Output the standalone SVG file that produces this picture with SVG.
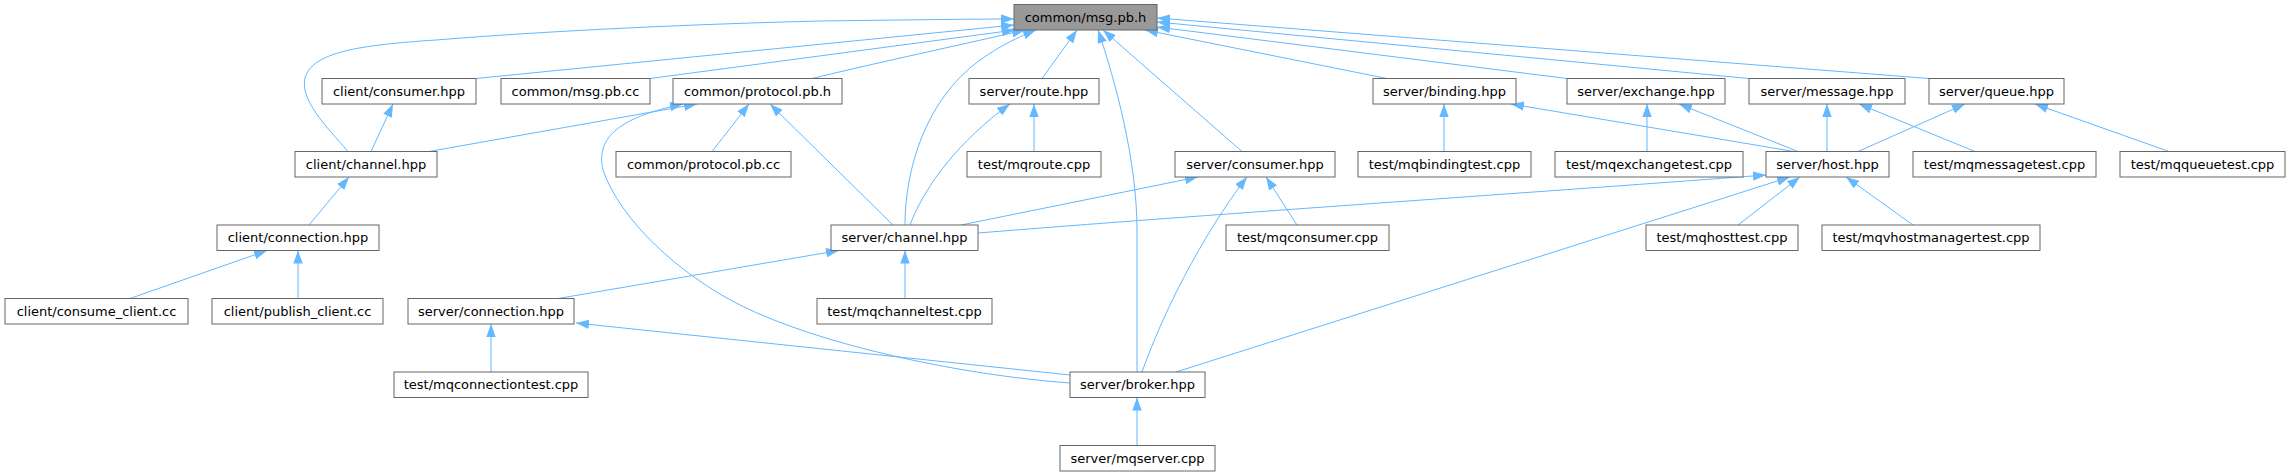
<svg xmlns="http://www.w3.org/2000/svg" width="2289" height="476" viewBox="0 0 2289 476">
<defs>
<style>
.node rect{fill:#ffffff;stroke:#666666;stroke-width:1}
.root rect{fill:#999999}
.node text{font-family:"DejaVu Sans","Liberation Sans",sans-serif;font-size:13px;fill:#000000;text-anchor:middle}
.edge{fill:none;stroke:#63B8FF;stroke-width:1;marker-end:url(#arr)}
</style>
<marker id="arr" markerUnits="userSpaceOnUse" markerWidth="14" markerHeight="10" refX="13" refY="5" orient="auto" viewBox="0 0 14 10">
<path d="M0,0.3 L13,5 L0,9.7 z" fill="#63B8FF"/>
</marker>
</defs>
<rect width="2289" height="476" fill="#ffffff"/>
<g id="connectors">
<path class="edge" d="M348,151.5 C325,125 300,100 305,78 C312,52 360,45 436,40 C560,30 700,24 820,21 C900,20 970,19 1014,19"/>
<path class="edge" d="M476,78.5 L1014,25"/>
<path class="edge" d="M650,78.5 L1015,30"/>
<path class="edge" d="M812,78.5 C880,62 960,45 1025,30"/>
<path class="edge" d="M905,225 C905,170 925,100 980,60 C1000,46 1018,37 1036,30"/>
<path class="edge" d="M1042,78.5 L1077,30"/>
<path class="edge" d="M1137,372 L1137,230 C1137,160 1115,80 1098,30"/>
<path class="edge" d="M1242,151.5 L1103,30"/>
<path class="edge" d="M1387,78.5 L1145,30"/>
<path class="edge" d="M1567,78.5 L1157,27"/>
<path class="edge" d="M1749,78.5 L1157,22"/>
<path class="edge" d="M1929,78.5 L1157,18"/>
<path class="edge" d="M371,151.5 L393,104"/>
<path class="edge" d="M429,151.5 L697,104"/>
<path class="edge" d="M712,151.5 L749,104"/>
<path class="edge" d="M893,225 L770,104"/>
<path class="edge" d="M1070,383 C960,375 820,345 740,305 C680,275 620,220 603,170 C596,140 615,118 683,104"/>
<path class="edge" d="M910,225 C925,185 960,140 1010,104"/>
<path class="edge" d="M1034,151.5 L1034,104"/>
<path class="edge" d="M309,225 L349,177"/>
<path class="edge" d="M130,298.5 L267,250.5"/>
<path class="edge" d="M298,298.5 L298,250.5"/>
<path class="edge" d="M961,225 L1198,177"/>
<path class="edge" d="M1142,372 C1175,280 1225,205 1247,177"/>
<path class="edge" d="M1297,225 L1266,177"/>
<path class="edge" d="M1444,151.5 L1444,104"/>
<path class="edge" d="M1794,151.5 L1511,104"/>
<path class="edge" d="M1647,151.5 L1647,104"/>
<path class="edge" d="M1798,151.5 L1679,104"/>
<path class="edge" d="M1827,151.5 L1827,104"/>
<path class="edge" d="M1975,151.5 L1859,104"/>
<path class="edge" d="M1858,151.5 L1965,104"/>
<path class="edge" d="M2169,151.5 L2035,104"/>
<path class="edge" d="M978,233 C1200,215 1500,195 1766,175"/>
<path class="edge" d="M1176,372 L1790,177"/>
<path class="edge" d="M1738,225 L1800,177"/>
<path class="edge" d="M1913,225 L1846,177"/>
<path class="edge" d="M558,298.5 L839,250.5"/>
<path class="edge" d="M905,298.5 L905,250.5"/>
<path class="edge" d="M491,372 L491,324"/>
<path class="edge" d="M1070,375 L576,323"/>
<path class="edge" d="M1137,445.5 L1137,397.5"/>
</g>
<g id="n1" class="node root"><rect x="1014" y="4.5" width="143" height="25.5"/><text x="1085.5" y="21.5">common/msg.pb.h</text></g>
<g id="n2" class="node"><rect x="322" y="78.5" width="154" height="25.5"/><text x="399" y="95.5">client/consumer.hpp</text></g>
<g id="n3" class="node"><rect x="501" y="78.5" width="149" height="25.5"/><text x="575.5" y="95.5">common/msg.pb.cc</text></g>
<g id="n4" class="node"><rect x="673" y="78.5" width="169" height="25.5"/><text x="757.5" y="95.5">common/protocol.pb.h</text></g>
<g id="n5" class="node"><rect x="969" y="78.5" width="130" height="25.5"/><text x="1034" y="95.5">server/route.hpp</text></g>
<g id="n6" class="node"><rect x="1373" y="78.5" width="143" height="25.5"/><text x="1444.5" y="95.5">server/binding.hpp</text></g>
<g id="n7" class="node"><rect x="1567" y="78.5" width="158" height="25.5"/><text x="1646" y="95.5">server/exchange.hpp</text></g>
<g id="n8" class="node"><rect x="1749" y="78.5" width="156" height="25.5"/><text x="1827" y="95.5">server/message.hpp</text></g>
<g id="n9" class="node"><rect x="1929" y="78.5" width="135" height="25.5"/><text x="1996.5" y="95.5">server/queue.hpp</text></g>
<g id="n10" class="node"><rect x="295" y="151.5" width="142" height="25.5"/><text x="366" y="168.5">client/channel.hpp</text></g>
<g id="n11" class="node"><rect x="616" y="151.5" width="175" height="25.5"/><text x="703.5" y="168.5">common/protocol.pb.cc</text></g>
<g id="n12" class="node"><rect x="967" y="151.5" width="134" height="25.5"/><text x="1034" y="168.5">test/mqroute.cpp</text></g>
<g id="n13" class="node"><rect x="1175" y="151.5" width="160" height="25.5"/><text x="1255" y="168.5">server/consumer.hpp</text></g>
<g id="n14" class="node"><rect x="1358" y="151.5" width="173" height="25.5"/><text x="1444.5" y="168.5">test/mqbindingtest.cpp</text></g>
<g id="n15" class="node"><rect x="1555" y="151.5" width="188" height="25.5"/><text x="1649" y="168.5">test/mqexchangetest.cpp</text></g>
<g id="n16" class="node"><rect x="1766" y="151.5" width="123" height="25.5"/><text x="1827.5" y="168.5">server/host.hpp</text></g>
<g id="n17" class="node"><rect x="1913" y="151.5" width="183" height="25.5"/><text x="2004.5" y="168.5">test/mqmessagetest.cpp</text></g>
<g id="n18" class="node"><rect x="2120" y="151.5" width="165" height="25.5"/><text x="2202.5" y="168.5">test/mqqueuetest.cpp</text></g>
<g id="n19" class="node"><rect x="217" y="225" width="162" height="25.5"/><text x="298" y="242">client/connection.hpp</text></g>
<g id="n20" class="node"><rect x="831" y="225" width="147" height="25.5"/><text x="904.5" y="242">server/channel.hpp</text></g>
<g id="n21" class="node"><rect x="1226" y="225" width="163" height="25.5"/><text x="1307.5" y="242">test/mqconsumer.cpp</text></g>
<g id="n22" class="node"><rect x="1646" y="225" width="152" height="25.5"/><text x="1722" y="242">test/mqhosttest.cpp</text></g>
<g id="n23" class="node"><rect x="1822" y="225" width="218" height="25.5"/><text x="1931" y="242">test/mqvhostmanagertest.cpp</text></g>
<g id="n24" class="node"><rect x="5" y="298.5" width="183" height="25.5"/><text x="96.5" y="315.5">client/consume_client.cc</text></g>
<g id="n25" class="node"><rect x="212" y="298.5" width="171" height="25.5"/><text x="297.5" y="315.5">client/publish_client.cc</text></g>
<g id="n26" class="node"><rect x="408" y="298.5" width="166" height="25.5"/><text x="491" y="315.5">server/connection.hpp</text></g>
<g id="n27" class="node"><rect x="817" y="298.5" width="175" height="25.5"/><text x="904.5" y="315.5">test/mqchanneltest.cpp</text></g>
<g id="n28" class="node"><rect x="394" y="372" width="194" height="25.5"/><text x="491" y="389">test/mqconnectiontest.cpp</text></g>
<g id="n29" class="node"><rect x="1070" y="372" width="135" height="25.5"/><text x="1137.5" y="389">server/broker.hpp</text></g>
<g id="n30" class="node"><rect x="1060" y="445.5" width="155" height="25.5"/><text x="1137.5" y="462.5">server/mqserver.cpp</text></g>
</svg>
